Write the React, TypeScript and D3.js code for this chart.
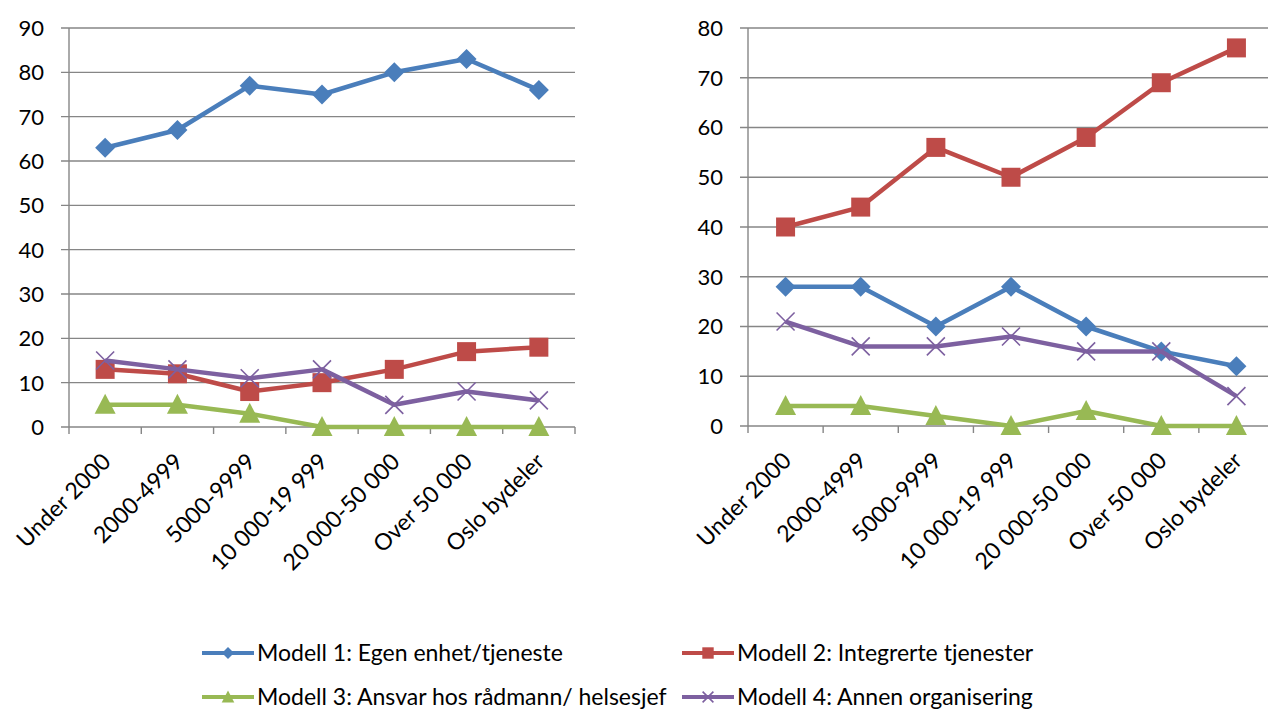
import * as d3 from "d3";

// kategorier (kommunestørrelse)
const categories = [
  "Under 2000",
  "2000-4999",
  "5000-9999",
  "10 000-19 999",
  "20 000-50 000",
  "Over 50 000",
  "Oslo bydeler",
];

const seriesNames = [
  "Modell 1: Egen enhet/tjeneste",
  "Modell 2: Integrerte tjenester",
  "Modell 3: Ansvar hos rådmann/ helsesjef",
  "Modell 4: Annen organisering",
];

// venstre diagram
const leftModell1 = [63, 67, 77, 75, 80, 83, 76];
const leftModell2 = [13, 12, 8, 10, 13, 17, 18];
const leftModell3 = [5, 5, 3, 0, 0, 0, 0];
const leftModell4 = [15, 13, 11, 13, 5, 8, 6];

// høyre diagram
const rightModell1 = [28, 28, 20, 28, 20, 15, 12];
const rightModell2 = [40, 44, 56, 50, 58, 69, 76];
const rightModell3 = [4, 4, 2, 0, 3, 0, 0];
const rightModell4 = [21, 16, 16, 18, 15, 15, 6];

const colors = ["#4A7EBB", "#BE4B48", "#98B954", "#7D60A0"];
const markers = ["diamond", "square", "triangle", "cross"];
const gridColor = "#868686";
const font = "Lato, 'Open Sans', sans-serif";

function Marker({ type, color, x, y, s = 1 }: { type: string; color: string; x: number; y: number; s?: number }) {
  const t = `translate(${x},${y}) scale(${s})`;
  if (type === "diamond") return <path transform={t} d="M0,-10L10,0L0,10L-10,0Z" fill={color} />;
  if (type === "square") return <path transform={t} d="M-9.5,-9.5H9.5V9.5H-9.5Z" fill={color} />;
  if (type === "triangle") return <path transform={t} d="M0,-11L10.5,9L-10.5,9Z" fill={color} />;
  return (
    <path transform={t} d="M-9,-9L9,9M9,-9L-9,9" stroke={color} strokeWidth={1.6 / s} fill="none" />
  );
}

interface PanelProps {
  x0: number;
  x1: number;
  yTop: number;
  yBottom: number;
  yMax: number;
  series: number[][];
}

function Panel({ x0, x1, yTop, yBottom, yMax, series }: PanelProps) {
  const x = d3.scaleBand<string>().domain(categories).range([x0, x1]);
  const y = d3.scaleLinear().domain([0, yMax]).range([yBottom, yTop]);
  const ticks = d3.range(0, yMax + 1, 10);
  const cx = (c: string) => (x(c) ?? 0) + x.bandwidth() / 2;
  const line = d3
    .line<number>()
    .x((_, i) => cx(categories[i]))
    .y((d) => y(d));

  return (
    <g>
      {ticks.map((t) => (
        <g key={t}>
          <line x1={x0 - 8} x2={x1} y1={y(t)} y2={y(t)} stroke={gridColor} strokeWidth={1.4} />
          <text
            x={x0 - 25}
            y={y(t)}
            dy="0.36em"
            textAnchor="end"
            fontSize={22}
            fontFamily={font}
            fill="#000"
          >
            {t}
          </text>
        </g>
      ))}
      <line x1={x0} x2={x0} y1={yTop} y2={yBottom} stroke={gridColor} strokeWidth={1.4} />
      {categories.concat([""]).map((c, i) => {
        const tx = x0 + i * x.bandwidth();
        return <line key={i} x1={tx} x2={tx} y1={yBottom} y2={yBottom + 7} stroke={gridColor} strokeWidth={1.4} />;
      })}
      {categories.map((c) => (
        <text
          key={c}
          transform={`translate(${cx(c) + 7},${yBottom + 36}) rotate(-45)`}
          textAnchor="end"
          fontSize={23}
          fontFamily={font}
          fill="#000"
        >
          {c}
        </text>
      ))}
      {series.map((vals, si) => (
        <g key={si}>
          <path d={line(vals) ?? ""} fill="none" stroke={colors[si]} strokeWidth={4.5} strokeLinejoin="round" />
          {vals.map((v, i) => (
            <Marker key={i} type={markers[si]} color={colors[si]} x={cx(categories[i])} y={y(v)} />
          ))}
        </g>
      ))}
    </g>
  );
}

function Legend() {
  const items = [
    { x: 202, y: 653 },
    { x: 682, y: 653 },
    { x: 202, y: 697 },
    { x: 682, y: 697 },
  ];
  return (
    <g>
      {items.map((p, i) => (
        <g key={i}>
          <line x1={p.x} x2={p.x + 52} y1={p.y} y2={p.y} stroke={colors[i]} strokeWidth={4} />
          <Marker type={markers[i]} color={colors[i]} x={p.x + 26} y={p.y} s={0.6} />
          <text x={p.x + 55} y={p.y} dy="0.36em" fontSize={23} fontFamily={font} fill="#000">
            {seriesNames[i]}
          </text>
        </g>
      ))}
    </g>
  );
}

export default function App() {
  return (
    <svg
      width={1268}
      height={711}
      style={{ position: "absolute", left: 0, top: 0, background: "#fff" }}
    >
      <Panel
        x0={69}
        x1={575}
        yTop={28}
        yBottom={427}
        yMax={90}
        series={[leftModell1, leftModell2, leftModell3, leftModell4]}
      />
      <Panel
        x0={748}
        x1={1274}
        yTop={28}
        yBottom={426}
        yMax={80}
        series={[rightModell1, rightModell2, rightModell3, rightModell4]}
      />
      <Legend />
    </svg>
  );
}
